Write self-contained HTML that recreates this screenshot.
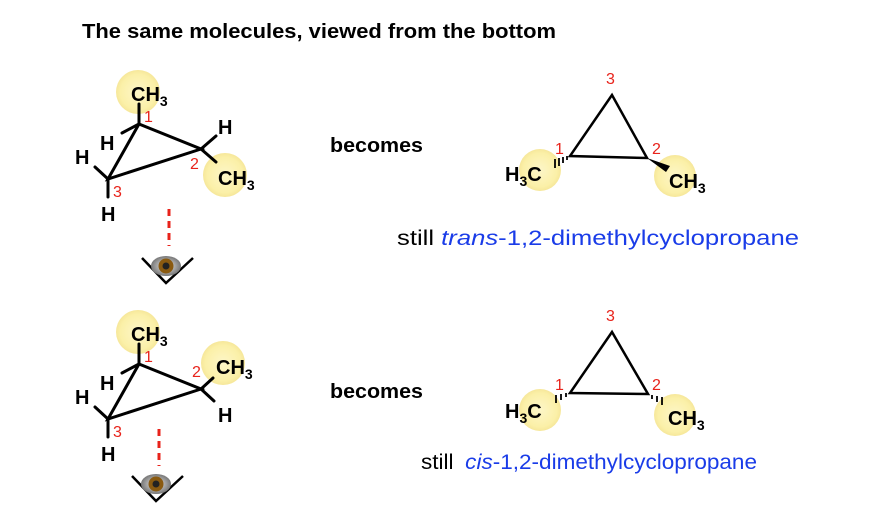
<!DOCTYPE html>
<html><head><meta charset="utf-8"><style>
body{margin:0;background:#fff;}
svg{display:block;}
text{font-family:"Liberation Sans",Arial,sans-serif;font-weight:bold;}
.r{fill:#e8231b;font-weight:normal;font-size:16px;}
.b{fill:#000;font-size:20px;}
.s{font-size:14px;}
.bl{fill:#1a3ce8;font-weight:normal;}
</style></head><body>
<svg width="874" height="530" viewBox="0 0 874 530" xmlns="http://www.w3.org/2000/svg">
<defs>
<radialGradient id="g"><stop offset="0" stop-color="#fdf6c8"/><stop offset="0.8" stop-color="#fbf0a8"/><stop offset="1" stop-color="#f6e79a"/></radialGradient>
<radialGradient id="eye"><stop offset="0" stop-color="#eee"/><stop offset="1" stop-color="#777"/></radialGradient>
<g id="eyeic">
<path d="M-24,-8 L0,17 L27,-8" fill="none" stroke="#000" stroke-width="2.5"/>
<ellipse cx="0" cy="0" rx="15" ry="10" fill="url(#eye)"/>
<circle cx="0" cy="0" r="7.5" fill="#8a5a10"/>
<circle cx="0" cy="0" r="3.5" fill="#222"/>
</g>
</defs>
<text x="82" y="38" font-size="20" fill="#000" textLength="474" lengthAdjust="spacingAndGlyphs">The same molecules, viewed from the bottom</text>

<!-- top left -->
<circle cx="138" cy="92" r="22" fill="url(#g)"/>
<circle cx="225" cy="175" r="22" fill="url(#g)"/>
<g stroke="#000" stroke-width="3" stroke-linecap="round" fill="none">
<path d="M139,124 L201,149 L108,179 Z"/>
<line x1="139" y1="124" x2="139" y2="104"/>
<line x1="139" y1="124" x2="122" y2="133"/>
<line x1="201" y1="149" x2="216" y2="136"/>
<line x1="201" y1="149" x2="216" y2="162"/>
<line x1="108" y1="179" x2="95" y2="167"/>
<line x1="108" y1="179" x2="108" y2="197"/>
</g>
<text x="131" y="101" class="b">CH<tspan class="s" dy="5">3</tspan></text>
<text x="100" y="150" class="b">H</text>
<text x="218" y="134" class="b">H</text>
<text x="218" y="185" class="b">CH<tspan class="s" dy="5">3</tspan></text>
<text x="75" y="164" class="b">H</text>
<text x="101" y="221" class="b">H</text>
<text x="144" y="122" class="r">1</text>
<text x="190" y="169" class="r">2</text>
<text x="113" y="197" class="r">3</text>
<line x1="169" y1="209" x2="169" y2="246" stroke="#e8231b" stroke-width="3" stroke-dasharray="7,5"/>
<use href="#eyeic" x="166" y="266"/>

<text x="330" y="152" class="b" textLength="93" lengthAdjust="spacingAndGlyphs">becomes</text>

<!-- top right -->
<circle cx="540" cy="170" r="21" fill="url(#g)"/>
<circle cx="675" cy="176" r="21" fill="url(#g)"/>
<path d="M612,95 L570,156 L647,158 Z" fill="none" stroke="#000" stroke-width="2.5"/>
<g stroke="#000" stroke-width="1.8">
<line x1="567" y1="156" x2="567" y2="160"/><line x1="563" y1="157" x2="563" y2="163"/><line x1="559" y1="158" x2="559" y2="166"/><line x1="555" y1="159" x2="555" y2="168"/>
</g>
<path d="M647,158 L666,172 L670,166 Z" fill="#000"/>
<text x="505" y="181" class="b">H<tspan class="s" dy="5">3</tspan><tspan dy="-5">C</tspan></text>
<text x="669" y="188" class="b">CH<tspan class="s" dy="5">3</tspan></text>
<text x="606" y="84" class="r">3</text>
<text x="555" y="154" class="r">1</text>
<text x="652" y="154" class="r">2</text>
<text x="397" y="245" font-size="21" fill="#000" style="font-weight:normal" textLength="402" lengthAdjust="spacingAndGlyphs">still <tspan class="bl" font-style="italic">trans</tspan><tspan class="bl">-1,2-dimethylcyclopropane</tspan></text>

<!-- bottom left -->
<circle cx="138" cy="332" r="22" fill="url(#g)"/>
<circle cx="223" cy="363" r="22" fill="url(#g)"/>
<g stroke="#000" stroke-width="3" stroke-linecap="round" fill="none">
<path d="M139,364 L201,389 L108,419 Z"/>
<line x1="139" y1="364" x2="139" y2="344"/>
<line x1="139" y1="364" x2="122" y2="373"/>
<line x1="201" y1="389" x2="213" y2="378"/>
<line x1="201" y1="389" x2="214" y2="401"/>
<line x1="108" y1="419" x2="95" y2="407"/>
<line x1="108" y1="419" x2="108" y2="437"/>
</g>
<text x="131" y="341" class="b">CH<tspan class="s" dy="5">3</tspan></text>
<text x="100" y="390" class="b">H</text>
<text x="216" y="374" class="b">CH<tspan class="s" dy="5">3</tspan></text>
<text x="218" y="422" class="b">H</text>
<text x="75" y="404" class="b">H</text>
<text x="101" y="461" class="b">H</text>
<text x="144" y="362" class="r">1</text>
<text x="192" y="377" class="r">2</text>
<text x="113" y="437" class="r">3</text>
<line x1="159" y1="429" x2="159" y2="466" stroke="#e8231b" stroke-width="3" stroke-dasharray="7,5"/>
<use href="#eyeic" x="156" y="484"/>

<text x="330" y="398" class="b" textLength="93" lengthAdjust="spacingAndGlyphs">becomes</text>

<!-- bottom right -->
<circle cx="540" cy="410" r="21" fill="url(#g)"/>
<circle cx="675" cy="415" r="21" fill="url(#g)"/>
<path d="M612,332 L570,393 L648,394 Z" fill="none" stroke="#000" stroke-width="2.5"/>
<g stroke="#000" stroke-width="1.8">
<line x1="566" y1="393" x2="566" y2="397"/><line x1="561" y1="394" x2="561" y2="400"/><line x1="556" y1="395" x2="556" y2="403"/>
<line x1="652" y1="395" x2="652" y2="399"/><line x1="657" y1="396" x2="657" y2="402"/><line x1="662" y1="397" x2="662" y2="405"/>
</g>
<text x="505" y="418" class="b">H<tspan class="s" dy="5">3</tspan><tspan dy="-5">C</tspan></text>
<text x="668" y="425" class="b">CH<tspan class="s" dy="5">3</tspan></text>
<text x="606" y="321" class="r">3</text>
<text x="555" y="390" class="r">1</text>
<text x="652" y="390" class="r">2</text>
<text x="421" y="469" font-size="21" fill="#000" style="font-weight:normal" textLength="336" lengthAdjust="spacingAndGlyphs">still <tspan class="bl" dx="5" font-style="italic">cis</tspan><tspan class="bl">-1,2-dimethylcyclopropane</tspan></text>
</svg>
</body></html>
